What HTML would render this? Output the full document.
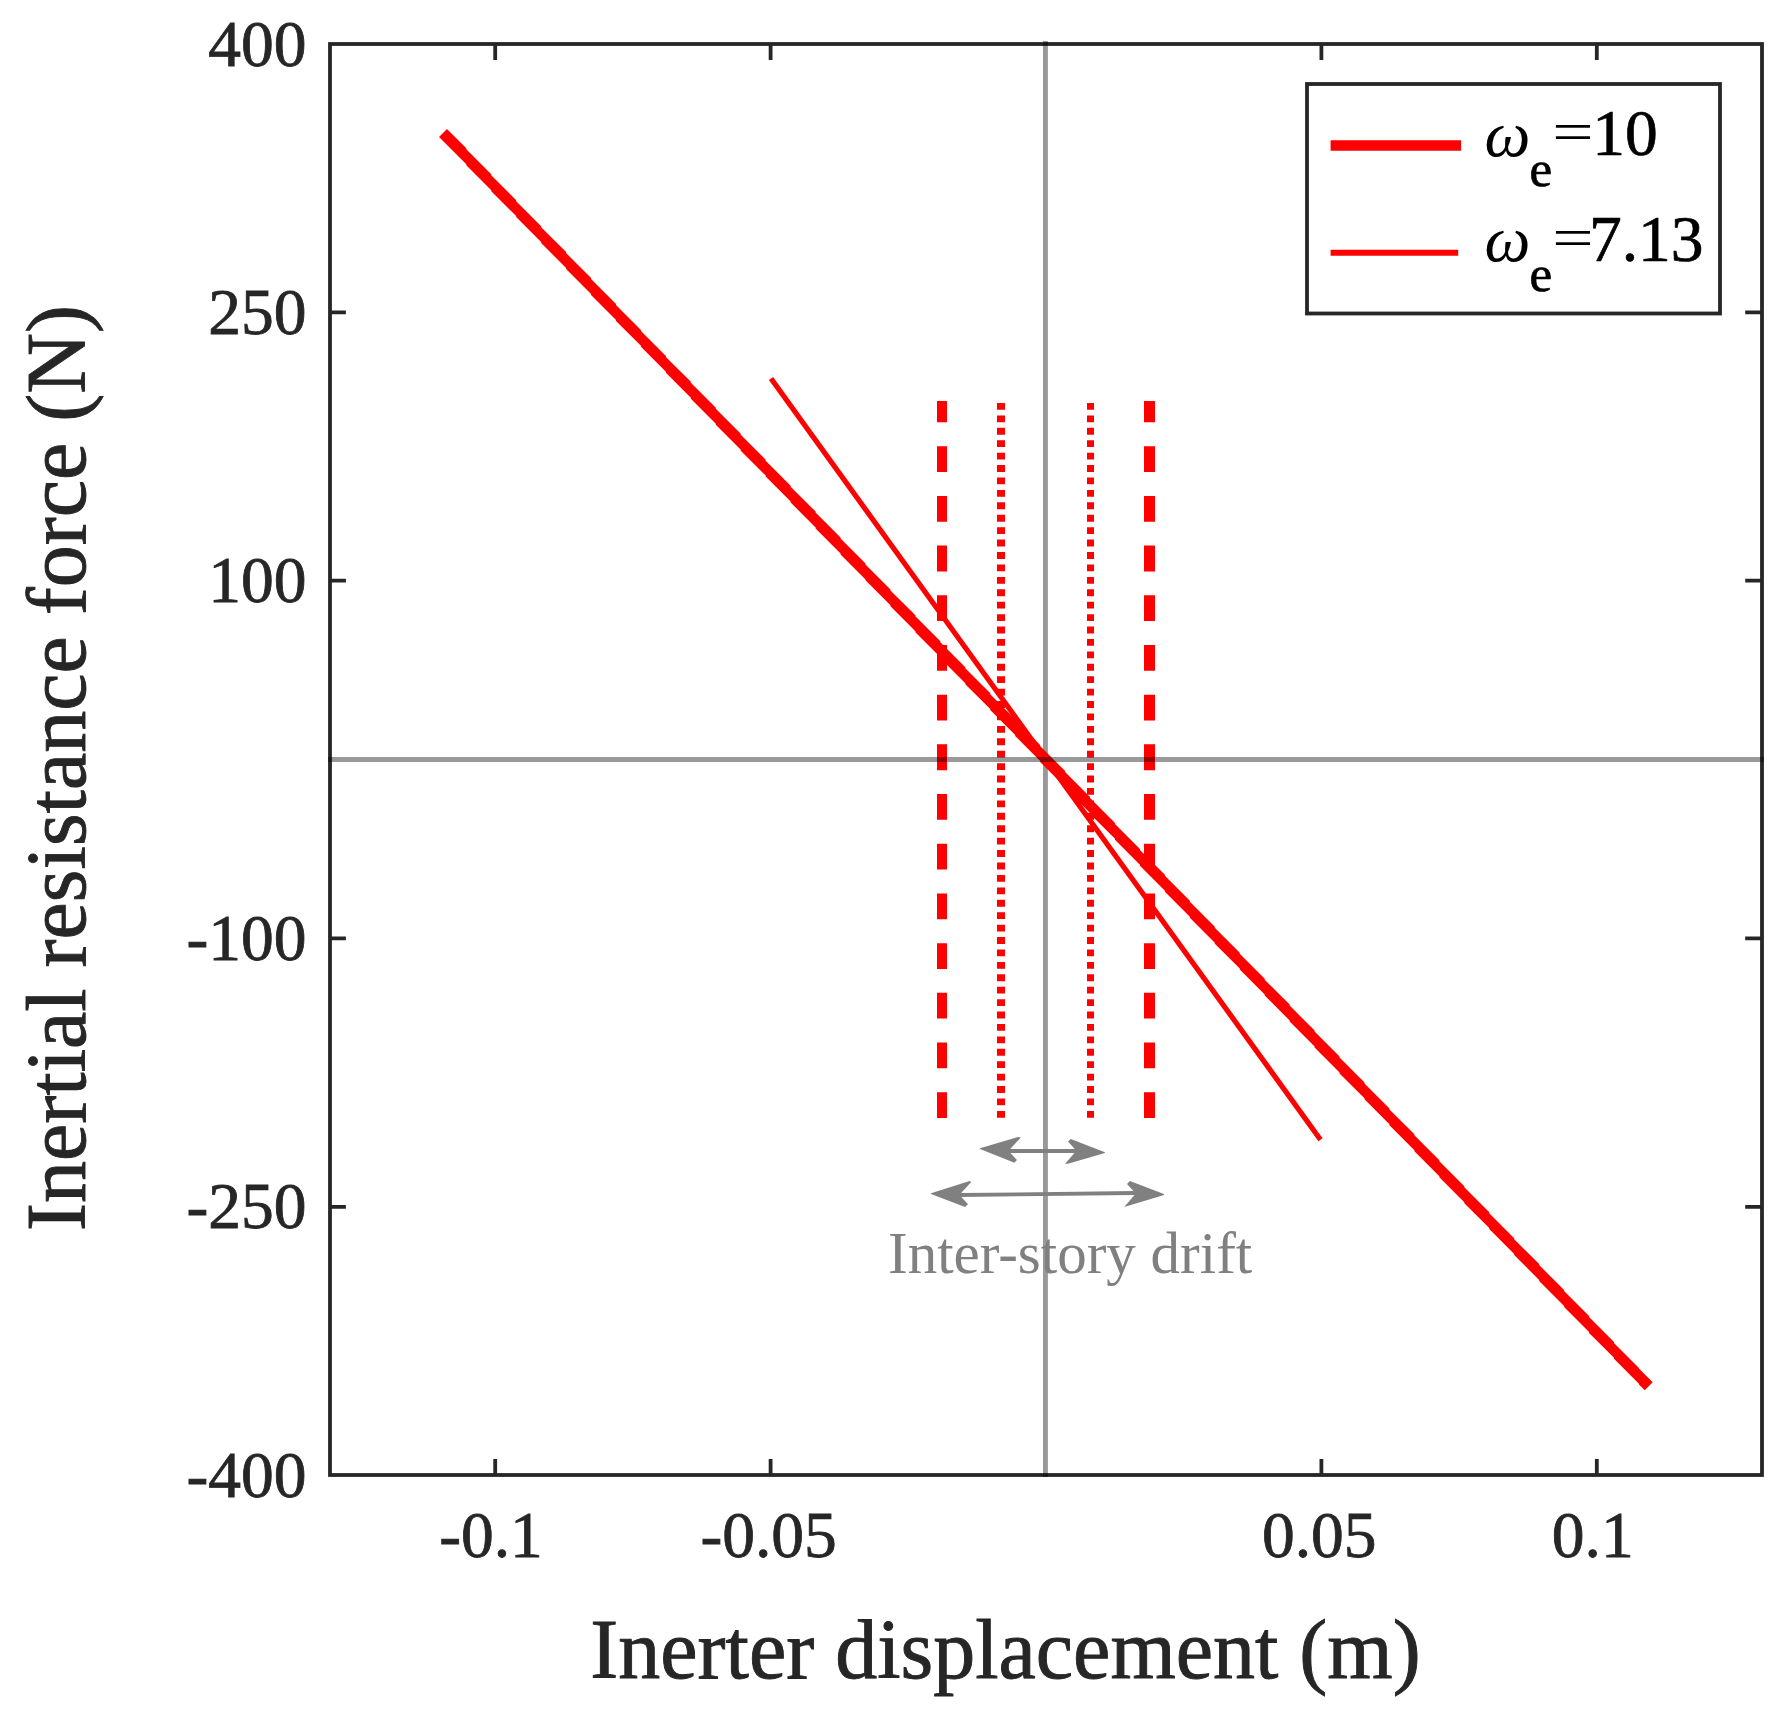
<!DOCTYPE html>
<html>
<head>
<meta charset="utf-8">
<style>
html,body{margin:0;padding:0;background:#fff;}
body{width:1787px;height:1714px;overflow:hidden;}
svg{display:block;}
text{font-family:"Liberation Serif","Times New Roman",serif;}
</style>
</head>
<body>
<svg width="1787" height="1714" viewBox="0 0 1787 1714">
<rect x="0" y="0" width="1787" height="1714" fill="#fff"/>

<!-- axes box and ticks -->
<g stroke="#262626" stroke-width="3.8" fill="none">
  <rect x="330" y="44" width="1432" height="1431"/>
  <!-- x ticks bottom/top -->
  <path d="M495.2 1475V1459.1M770.6 1475V1459.1M1321.4 1475V1459.1M1596.8 1475V1459.1"/>
  <path d="M495.2 44V59.9M770.6 44V59.9M1321.4 44V59.9M1596.8 44V59.9"/>
  <!-- y ticks left/right -->
  <path d="M330 312.3H345.9M330 580.7H345.9M330 938.4H345.9M330 1206.8H345.9"/>
  <path d="M1762 312.3H1745.2M1762 580.7H1745.2M1762 938.4H1745.2M1762 1206.8H1745.2"/>
</g>

<!-- y tick labels -->
<g fill="#262626" stroke="#262626" stroke-width="0.8" font-size="65.5" text-anchor="end">
  <text x="306.6" y="65.8">400</text>
  <text x="306.6" y="333.8">250</text>
  <text x="306.6" y="602.2">100</text>
  <text x="306.6" y="959.9">-100</text>
  <text x="306.6" y="1228.3">-250</text>
  <text x="306.6" y="1496.6">-400</text>
</g>
<!-- x tick labels -->
<g fill="#262626" stroke="#262626" stroke-width="0.8" font-size="65.5" text-anchor="middle">
  <text x="491" y="1556.5">-0.1</text>
  <text x="768.6" y="1556.5">-0.05</text>
  <text x="1319.3" y="1556.5">0.05</text>
  <text x="1592.8" y="1556.5">0.1</text>
</g>

<!-- axis labels -->
<text x="1005.5" y="1678" fill="#262626" stroke="#262626" stroke-width="0.9" font-size="84" text-anchor="middle">Inerter displacement (m)</text>
<text transform="translate(85.2 768) rotate(-90)" fill="#262626" stroke="#262626" stroke-width="0.9" font-size="84" text-anchor="middle">Inertial resistance force (N)</text>

<!-- vertical zero line -->
<line x1="1045.45" y1="41" x2="1045.45" y2="1477" stroke="#000" stroke-opacity="0.4" stroke-width="4.9"/>

<!-- red data lines -->
<g stroke="#ff0000" fill="none">
  <path d="M439.02 136.94L446.98 128.99L466.30 148.32L466.30 164.22ZM466.30 149.28L491.25 174.23L491.25 190.13L466.30 165.18ZM491.25 175.23L516.20 200.18L516.20 216.08L491.25 191.13ZM516.20 201.18L541.15 226.13L541.15 242.03L516.20 217.08ZM541.15 227.13L566.10 252.08L566.10 267.98L541.15 243.03ZM566.10 253.08L591.05 278.03L591.05 293.93L566.10 268.98ZM591.05 279.03L616.00 303.98L616.00 319.88L591.05 294.93ZM616.00 304.98L640.95 329.93L640.95 345.83L616.00 320.88ZM640.95 330.93L665.90 355.88L665.90 371.78L640.95 346.83ZM665.90 356.88L690.85 381.83L690.85 397.73L665.90 372.78ZM690.85 382.83L715.80 407.78L715.80 423.68L690.85 398.73ZM715.80 408.78L740.75 433.73L740.75 449.63L715.80 424.68ZM740.75 434.73L765.70 459.68L765.70 475.58L740.75 450.63ZM765.70 460.68L790.65 485.63L790.65 501.53L765.70 476.58ZM790.65 486.63L815.60 511.58L815.60 527.48L790.65 502.53ZM815.60 512.58L840.55 537.53L840.55 553.43L815.60 528.48ZM840.55 538.53L865.50 563.48L865.50 579.38L840.55 554.43ZM865.50 564.47L890.45 589.42L890.45 605.32L865.50 580.37ZM890.45 590.42L915.40 615.37L915.40 631.27L890.45 606.32ZM915.40 616.37L940.35 641.32L940.35 657.22L915.40 632.27ZM940.35 642.32L965.30 667.27L965.30 683.17L940.35 658.22ZM965.30 668.27L990.25 693.22L990.25 709.12L965.30 684.17ZM990.25 694.22L1015.20 719.17L1015.20 735.07L990.25 710.12ZM1015.20 720.17L1040.15 745.12L1040.15 761.02L1015.20 736.07ZM1040.15 746.12L1065.10 771.07L1065.10 786.97L1040.15 762.02ZM1065.10 772.07L1090.05 797.02L1090.05 812.92L1065.10 787.97ZM1090.05 798.02L1115.00 822.97L1115.00 838.87L1090.05 813.92ZM1115.00 823.97L1139.95 848.92L1139.95 864.82L1115.00 839.87ZM1139.95 849.92L1164.90 874.87L1164.90 890.77L1139.95 865.82ZM1164.90 875.87L1189.85 900.82L1189.85 916.72L1164.90 891.77ZM1189.85 901.82L1214.80 926.77L1214.80 942.67L1189.85 917.72ZM1214.80 927.77L1239.75 952.72L1239.75 968.62L1214.80 943.67ZM1239.75 953.72L1264.70 978.67L1264.70 994.57L1239.75 969.62ZM1264.70 979.67L1289.65 1004.62L1289.65 1020.52L1264.70 995.57ZM1289.65 1005.62L1314.60 1030.57L1314.60 1046.47L1289.65 1021.52ZM1314.60 1031.57L1339.55 1056.52L1339.55 1072.42L1314.60 1047.47ZM1339.55 1057.52L1364.50 1082.47L1364.50 1098.37L1339.55 1073.42ZM1364.50 1083.46L1389.45 1108.41L1389.45 1124.31L1364.50 1099.36ZM1389.45 1109.41L1414.40 1134.36L1414.40 1150.26L1389.45 1125.31ZM1414.40 1135.36L1439.35 1160.31L1439.35 1176.21L1414.40 1151.26ZM1439.35 1161.31L1464.30 1186.26L1464.30 1202.16L1439.35 1177.21ZM1464.30 1187.26L1489.25 1212.21L1489.25 1228.11L1464.30 1203.16ZM1489.25 1213.21L1514.20 1238.16L1514.20 1254.06L1489.25 1229.11ZM1514.20 1239.16L1539.15 1264.11L1539.15 1280.01L1514.20 1255.06ZM1539.15 1265.11L1564.10 1290.06L1564.10 1305.96L1539.15 1281.01ZM1564.10 1291.06L1589.05 1316.01L1589.05 1331.91L1564.10 1306.96ZM1589.05 1317.01L1614.00 1341.96L1614.00 1357.86L1589.05 1332.91ZM1614.00 1342.96L1638.95 1367.91L1638.95 1383.81L1614.00 1358.86ZM1638.95 1368.60L1652.67 1382.33L1644.73 1390.28L1638.95 1384.50Z" fill="#ff0000" stroke="none"/>
  <line x1="771" y1="378.5" x2="1320.5" y2="1139.7" stroke-width="5.2"/>
  <line x1="942" y1="1118" x2="942" y2="401" stroke-width="10" stroke-dasharray="25.8 23.89"/>
  <line x1="1149.5" y1="1118" x2="1149.5" y2="401" stroke-width="11" stroke-dasharray="25.8 23.89"/>
  <line x1="1001" y1="403" x2="1001" y2="1118" stroke-width="8" stroke-dasharray="6.85 5.57"/>
  <line x1="1090.5" y1="403" x2="1090.5" y2="1118" stroke-width="7" stroke-dasharray="6.85 5.57"/>
</g>

<!-- horizontal zero line -->
<line x1="328" y1="759.4" x2="1764" y2="759.4" stroke="#000" stroke-opacity="0.4" stroke-width="5"/>

<!-- arrows -->
<g fill="#808080" stroke="none">
  <path d="M1008 1149.1L1076 1149.1L1076 1153L1008 1153z"/>
  <path d="M980 1148.3L1018.3 1136.9L1020.9 1137.4L1010.4 1148.8L1010.4 1153L1016.9 1160L1014.4 1162.8L980 1149z"/>
  <path d="M1104.9 1152.3L1070.8 1139L1068 1141.4L1074.3 1148.5L1074.3 1153.2L1065 1163.8L1067.9 1163.8L1104.9 1153.1z"/>
  <path d="M959 1193.1L1136 1191.1L1136 1195L959 1197z"/>
  <path d="M931 1193.2L969.6 1180.9L971.2 1182L961.4 1192.8L961.4 1197L968 1204.2L965 1206.9L931 1194.1z"/>
  <path d="M1163.9 1193.9L1129.9 1180.9L1127 1183.9L1133.3 1190.8L1134.5 1195.1L1124.2 1206.9L1164 1194.9z"/>
</g>
<text x="888" y="1273" fill="#808080" font-size="59">Inter-story drift</text>

<!-- legend -->
<rect x="1307" y="84" width="413" height="229.5" fill="#fff" stroke="#262626" stroke-width="3.8"/>
<line x1="1330.6" y1="145.5" x2="1461.1" y2="145.5" stroke="#ff0000" stroke-width="10.6"/>
<line x1="1330.6" y1="252.8" x2="1458.2" y2="252.8" stroke="#ff0000" stroke-width="6"/>
<g fill="#000">
  <text x="1484.4" y="155.6" font-size="65" font-style="italic">ω</text>
  <text x="1484.4" y="261.4" font-size="65" font-style="italic">ω</text>
  <text transform="translate(1552.2 151.45) scale(1.12 0.86)" font-size="65.5">=</text>
  <text transform="translate(1552.2 256.8) scale(1.12 0.86)" font-size="65.5">=</text>
</g>
<g fill="#000" stroke="#000" stroke-width="0.7">
  <text x="1529.5" y="186.1" font-size="51">e</text>
  <text x="1592.3" y="155.1" font-size="65.5">10</text>
  <text x="1529.5" y="291.2" font-size="51">e</text>
  <text x="1588.9" y="260.7" font-size="65.5">7.13</text>
</g>
</svg>
</body>
</html>
